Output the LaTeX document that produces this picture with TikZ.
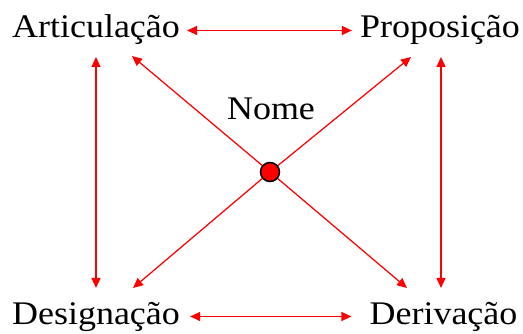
\documentclass[tikz,border=0pt]{standalone}
\usepackage{fontspec}
\setmainfont{Liberation Serif}[FakeStretch=1.09]
\usetikzlibrary{arrows.meta}
\begin{document}
\begin{tikzpicture}[x=1pt,y=-1pt,
  term/.style={font=\fontsize{33}{40}\selectfont, anchor=base, inner sep=0pt},
  hub/.style={circle, fill=red, draw=black, line width=1.5pt, minimum size=19pt, inner sep=0pt},
  link/.style={red, line width=1.25pt, -{Triangle[length=10pt,width=9pt]}},
  bilink/.style={red, line width=1.25pt, {Triangle[length=10pt,width=9pt]}-{Triangle[length=10pt,width=9pt]}}]
\useasboundingbox (0,0) rectangle (523,334);
% terms
\node[term] (art)   at (96,38)     {Articulação};
\node[term] (prop)  at (440,37.5)  {Proposição};
\node[term] (desig) at (96,325)    {Designação};
\node[term] (deriv) at (443.5,325) {Derivação};
\node[term] (nome)  at (271,120)   {Nome};
% central point
\node[hub] (dot) at (270,172) {};
% square of double arrows
\draw[bilink] ([shift={(7pt,7.5pt)}]art.base east) -- ([shift={(-8pt,7pt)}]prop.base west);
\draw[bilink] ([shift={(10pt,8.5pt)}]desig.base east) -- ([shift={(-18pt,8.5pt)}]deriv.base west);
\draw[bilink] ([yshift=-19pt]art.base) -- ([yshift=37pt]desig.base);
\draw[bilink] ([shift={(1pt,-19.5pt)}]prop.base) -- ([shift={(-2.5pt,37pt)}]deriv.base);
% arrows out of the centre
\draw[link] (dot) -- ([shift={(36pt,-18pt)}]art.base);
\draw[link] (dot) -- ([shift={(-29pt,-19.5pt)}]prop.base);
\draw[link] (dot) -- ([shift={(37pt,37pt)}]desig.base);
\draw[link] (dot) -- ([shift={(-36.5pt,37pt)}]deriv.base);
\end{tikzpicture}
\end{document}
